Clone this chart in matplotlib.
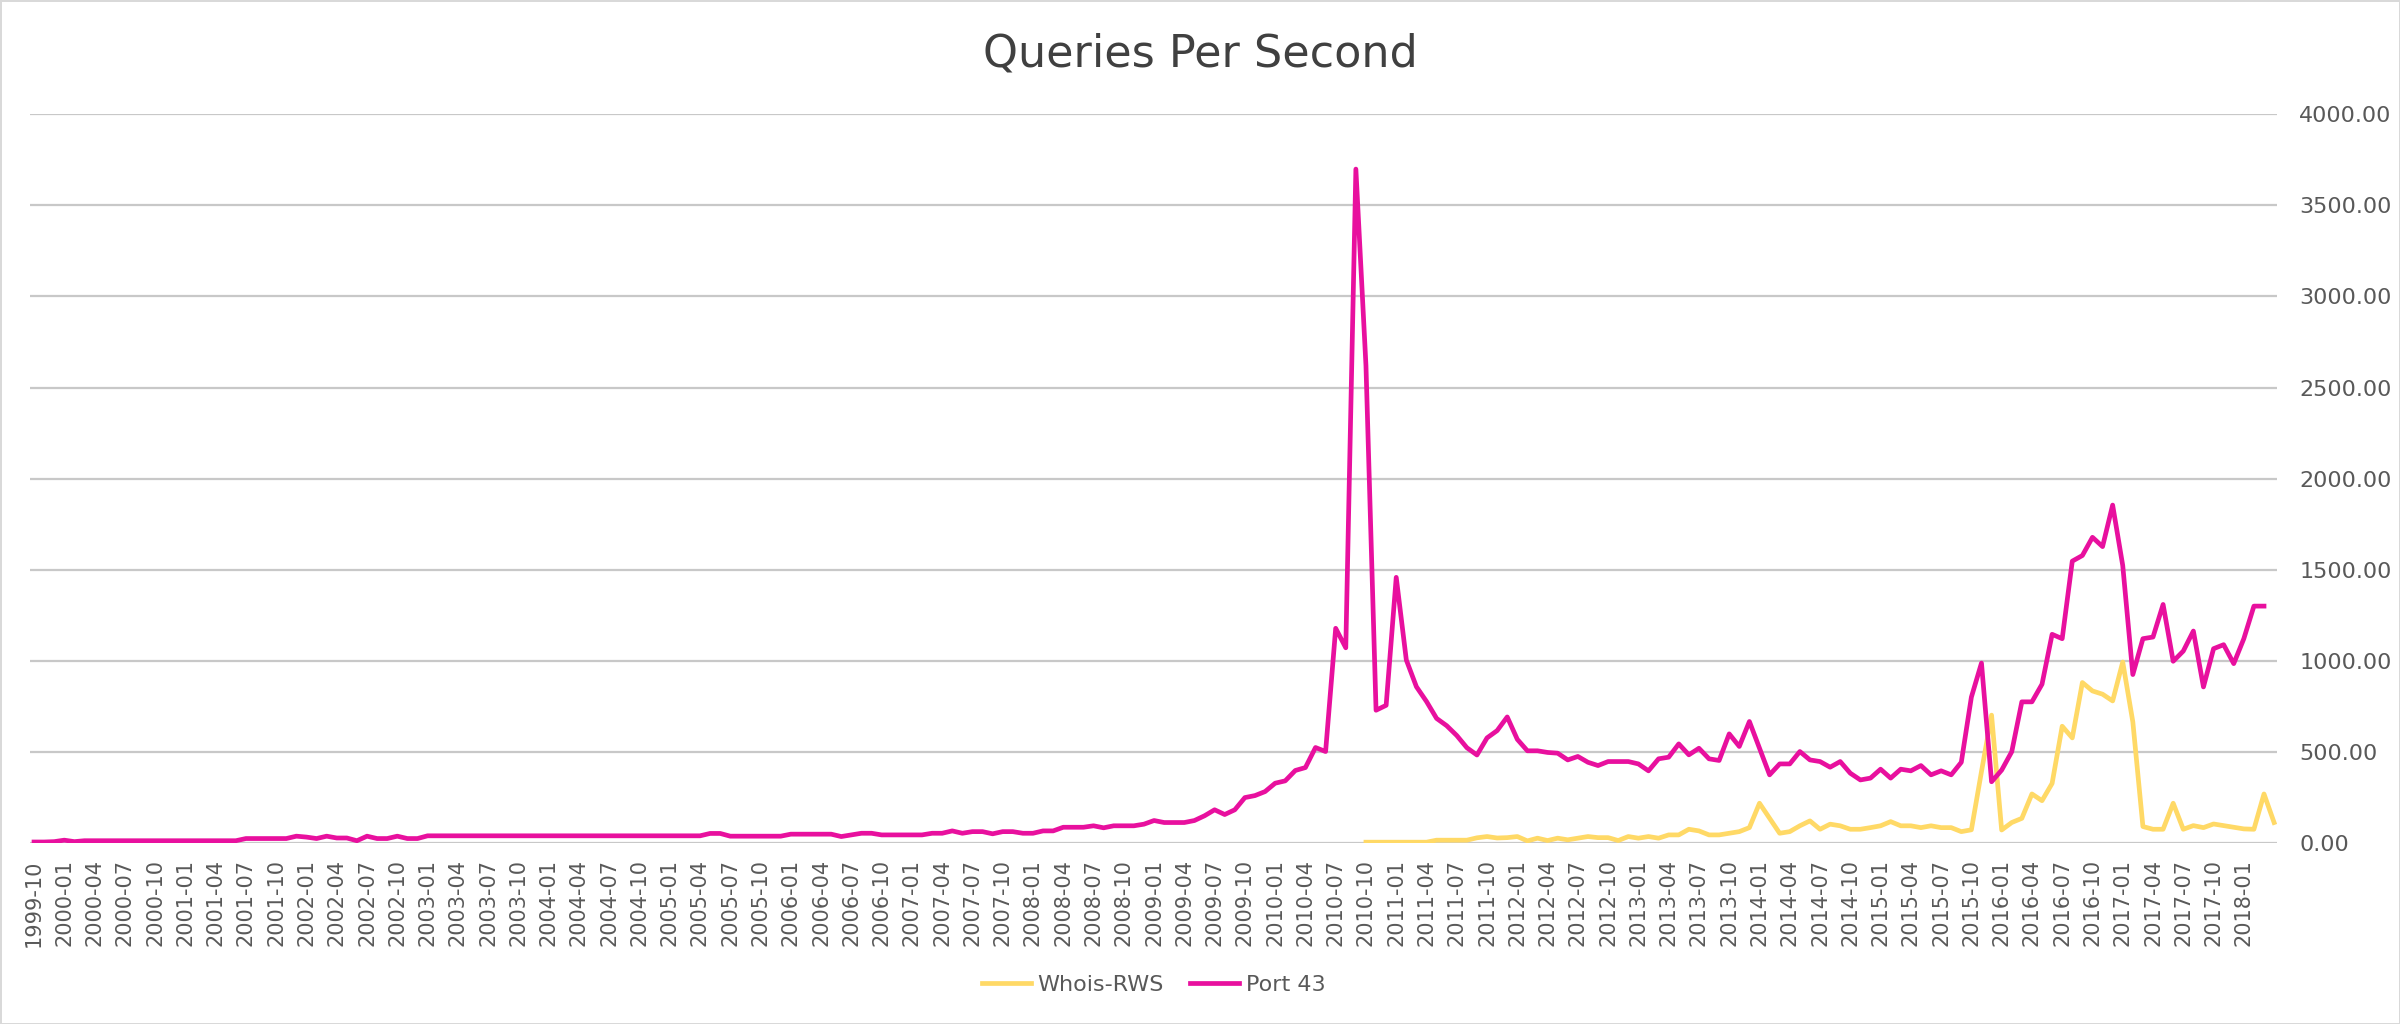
import numpy as np
import pandas as pd
import matplotlib
matplotlib.use('Agg')
import matplotlib.pyplot as plt

# monthly categories 1999-10 .. 2018-04
first_month = '1999-10'
last_month = '2018-04'
months = pd.period_range(first_month, last_month, freq='M').strftime('%Y-%m').tolist()

# Port 43 queries per second, 1999-10 .. 2018-03
port43 = [
    3, 3, 5, 13, 5, 10, 10, 10, 10, 10,
    10, 10, 10, 10, 10, 10, 10, 10, 10, 10,
    10, 22, 22, 22, 22, 22, 35, 30, 22, 35,
    25, 25, 10, 35, 22, 22, 35, 22, 22, 37,
    37, 37, 37, 37, 37, 37, 37, 37, 37, 37,
    37, 37, 37, 37, 37, 37, 37, 37, 37, 37,
    37, 37, 37, 37, 37, 37, 37, 50, 50, 35,
    35, 35, 35, 35, 35, 46, 46, 46, 46, 46,
    33, 42, 51, 51, 42, 42, 42, 42, 42, 51,
    51, 64, 51, 60, 60, 48, 60, 60, 51, 51,
    64, 64, 84, 84, 84, 92, 81, 92, 92, 92,
    101, 121, 110, 110, 110, 121, 147, 180, 154, 180,
    247, 258, 280, 326, 339, 396, 412, 522, 500, 1177,
    1070, 3700, 2620, 727, 754, 1457, 1003, 856, 775, 682,
    642, 588, 521, 481, 575, 615, 690, 567, 504, 504,
    495, 491, 454, 473, 441, 423, 445, 445, 445, 432,
    394, 460, 469, 542, 482, 518, 460, 451, 597, 528,
    665, 518, 372, 432, 432, 500, 454, 445, 414, 445,
    381, 344, 354, 403, 354, 403, 394, 423, 372, 394,
    372, 441, 799, 986, 334, 398, 499, 773, 773, 870,
    1144, 1120, 1546, 1577, 1677, 1626, 1854, 1522, 923, 1120,
    1129, 1308, 996, 1052, 1162, 855, 1065, 1087, 983, 1120,
    1299, 1299,
]

# Whois-RWS queries per second, 2010-10 .. 2018-04
whois_start = '2010-10'
whois_rws = [
    2, 2, 2, 2, 2, 2, 2, 13, 13, 13,
    13, 26, 33, 25, 27, 33, 9, 24, 11, 24,
    15, 24, 33, 27, 27, 11, 33, 24, 33, 24,
    42, 42, 73, 64, 42, 42, 51, 60, 82, 216,
    134, 51, 60, 92, 119, 73, 101, 92, 73, 73,
    82, 92, 115, 92, 92, 82, 92, 82, 82, 60,
    70, 390, 700, 69, 110, 133, 267, 230, 325, 639,
    575, 879, 833, 815, 778, 992, 663, 88, 73, 73,
    216, 73, 93, 82, 102, 93, 84, 75, 73, 267,
    110,
]

n = len(months)
x = np.arange(n)
port_y = np.full(n, np.nan)
port_y[:len(port43)] = port43
whois_y = np.full(n, np.nan)
k = months.index(whois_start)
whois_y[k:k + len(whois_rws)] = whois_rws

text_color = '#595959'
plt.rcParams['font.family'] = ['DejaVu Sans']

fig = plt.figure(figsize=(24, 10.24), dpi=100)
fig.patch.set_edgecolor('#d9d9d9')
fig.patch.set_linewidth(2)
ax = fig.add_axes([0.0125, 0.1772, 0.9363, 0.7110])

ax.plot(x, whois_y, color='#ffd966', lw=3.4, label='Whois-RWS', solid_joinstyle='round')
ax.plot(x, port_y, color='#e8109e', lw=3.4, label='Port 43', solid_joinstyle='round')

ax.set_ylim(0, 4000)
ax.set_xlim(-0.4, 222.3)
ax.set_yticks(np.arange(0, 4001, 500))
ax.set_yticklabels([f'{v:.2f}' for v in np.arange(0, 4001, 500)])
ax.yaxis.tick_right()
ax.grid(axis='y', color='#c8c8c8', lw=1.6)
ax.set_axisbelow(True)
for s in ax.spines.values():
    s.set_visible(False)

tick_idx = list(range(0, 220, 3))
ax.set_xticks(tick_idx)
ax.set_xticklabels([months[i] for i in tick_idx], rotation=90)
ax.tick_params(axis='x', length=0, pad=12, labelsize=15, labelcolor=text_color)
ax.tick_params(axis='y', length=0, pad=16, labelsize=16, labelcolor=text_color)
for lab in ax.get_yticklabels():
    lab.set_horizontalalignment('left')

fig.text(0.5, 0.947, 'Queries Per Second', ha='center', va='center',
         fontsize=32, color='#404040')

ax.legend(loc='center', bbox_to_anchor=(0.5, -0.196), ncol=2, frameon=False,
          fontsize=16, labelcolor=text_color, handlelength=2.2,
          handletextpad=0.3, columnspacing=1.2)

fig.savefig('out.png', dpi=100)
